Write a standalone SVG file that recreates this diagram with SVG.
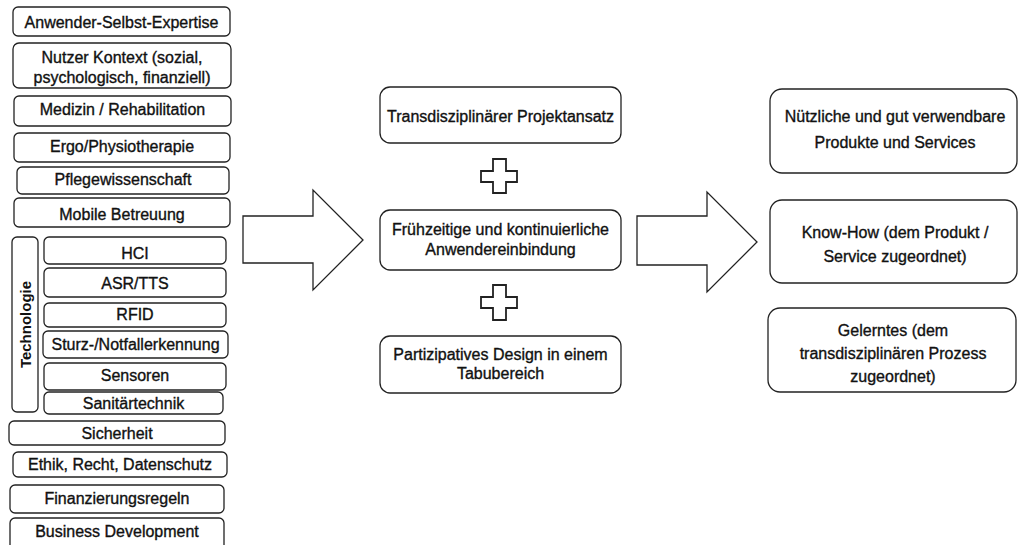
<svg xmlns="http://www.w3.org/2000/svg" width="1018" height="545" viewBox="0 0 1018 545">
<style>
.b{fill:#fff;stroke:#222;stroke-width:1.3}
.t{font-family:"Liberation Sans",Arial,sans-serif;font-size:16px;fill:#111;stroke:#111;stroke-width:0.35;text-anchor:middle}
.sh{fill:#fff;stroke:#222;stroke-width:1.3;stroke-linejoin:miter}
.pl{fill:#fff;stroke:#222;stroke-width:1.8;stroke-linejoin:miter}
</style>
<rect width="1018" height="545" fill="#fff"/>
<g id="n-anwender"><rect class="b" x="13" y="7" width="217" height="29" rx="5"/><text class="t" x="121.5" y="28">Anwender-Selbst-Expertise</text></g>
<g id="n-nutzer"><rect class="b" x="13" y="43" width="218" height="45" rx="6"/><text class="t" x="122" y="63">Nutzer Kontext (sozial,</text><text class="t" x="122" y="83">psychologisch, finanziell)</text></g>
<g id="n-medizin"><rect class="b" x="14" y="96" width="217" height="30" rx="5"/><text class="t" x="122.5" y="115">Medizin / Rehabilitation</text></g>
<g id="n-ergo"><rect class="b" x="14" y="133" width="216" height="29" rx="5"/><text class="t" x="122" y="151.5">Ergo/Physiotherapie</text></g>
<g id="n-pflege"><rect class="b" x="17" y="167" width="212" height="27" rx="5"/><text class="t" x="123" y="185">Pflegewissenschaft</text></g>
<g id="n-mobile"><rect class="b" x="14" y="198" width="216" height="29" rx="5"/><text class="t" x="122" y="220">Mobile Betreuung</text></g>
<g id="n-technologie"><rect class="b" x="12" y="237" width="26" height="175" rx="5"/><text class="t" style="font-weight:bold;font-size:15px;stroke-width:0" transform="translate(30.5 324.5) rotate(-90)">Technologie</text></g>
<g id="n-hci"><rect class="b" x="44" y="237" width="182" height="27" rx="5"/><text class="t" x="135" y="258.5">HCI</text></g>
<g id="n-asr"><rect class="b" x="44" y="268" width="182" height="29" rx="5"/><text class="t" x="135" y="288.5">ASR/TTS</text></g>
<g id="n-rfid"><rect class="b" x="44" y="303" width="182" height="24" rx="5"/><text class="t" x="135" y="320">RFID</text></g>
<g id="n-sturz"><rect class="b" x="43" y="331" width="185" height="27" rx="5"/><text class="t" x="135.5" y="350">Sturz-/Notfallerkennung</text></g>
<g id="n-sensoren"><rect class="b" x="44" y="363" width="182" height="27" rx="5"/><text class="t" x="135" y="381">Sensoren</text></g>
<g id="n-sanitaer"><rect class="b" x="44" y="392" width="179" height="22" rx="5"/><text class="t" x="133.5" y="408.5">Sanitärtechnik</text></g>
<g id="n-sicherheit"><rect class="b" x="9" y="421" width="216" height="24" rx="5"/><text class="t" x="117" y="438.5">Sicherheit</text></g>
<g id="n-ethik"><rect class="b" x="13" y="452" width="214" height="25" rx="5"/><text class="t" x="120" y="470">Ethik, Recht, Datenschutz</text></g>
<g id="n-finanz"><rect class="b" x="10" y="485" width="214" height="28" rx="5"/><text class="t" x="117" y="503.5">Finanzierungsregeln</text></g>
<g id="n-business"><rect class="b" x="10" y="518" width="214" height="32" rx="5"/><text class="t" x="117" y="537">Business Development</text></g>
<g id="n-trans"><rect class="b" x="380" y="87" width="241" height="56" rx="10"/><text class="t" x="500.5" y="122">Transdisziplinärer Projektansatz</text></g>
<g id="n-frueh"><rect class="b" x="380" y="210" width="241" height="60" rx="10"/><text class="t" x="500.5" y="235">Frühzeitige und kontinuierliche</text><text class="t" x="500.5" y="255">Anwendereinbindung</text></g>
<g id="n-partizip"><rect class="b" x="380" y="336" width="241" height="57" rx="10"/><text class="t" x="500.5" y="360">Partizipatives Design in einem</text><text class="t" x="500.5" y="379">Tabubereich</text></g>
<g id="n-nuetzlich"><rect class="b" x="770" y="89" width="247" height="84" rx="12"/><text class="t" x="895" y="122">Nützliche und gut verwendbare</text><text class="t" x="895" y="148">Produkte und Services</text></g>
<g id="n-knowhow"><rect class="b" x="770" y="200" width="247" height="83" rx="12"/><text class="t" x="895" y="238">Know-How (dem Produkt /</text><text class="t" x="895" y="261.5">Service zugeordnet)</text></g>
<g id="n-gelerntes"><rect class="b" x="768" y="308" width="248" height="84" rx="12"/><text class="t" x="893" y="336">Gelerntes (dem</text><text class="t" x="893" y="358.5">transdisziplinären Prozess</text><text class="t" x="893" y="381.5">zugeordnet)</text></g>
<g id="connectors">
<polygon class="sh" points="243,216 313,216 313,190 363,240 313,290 313,263 243,263"/>
<polygon class="sh" points="637,216 707,216 707,192 757,242 707,292 707,265 637,265"/>
<polygon class="pl" points="493,159 506,159 506,171 517,171 517,182 506,182 506,193 493,193 493,182 481,182 481,171 493,171"/>
<polygon class="pl" points="493,285 506,285 506,297 517,297 517,308 506,308 506,320 493,320 493,308 481,308 481,297 493,297"/>
</g>
</svg>
